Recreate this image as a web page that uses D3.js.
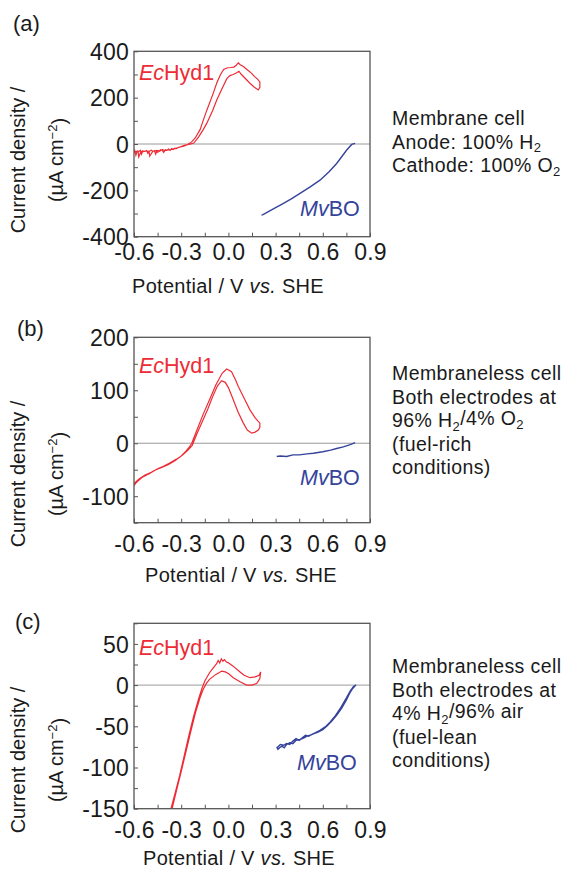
<!DOCTYPE html>
<html lang="en">
<head>
<meta charset="UTF-8">
<title>Hydrogenase fuel cell voltammograms</title>
<script src="https://d3js.org/d3.v7.min.js"></script>
<style>
  body { margin: 0; background: #fff; }
  text { font-family: "Liberation Sans", Arial, sans-serif; fill: #1a1a1a; }
  .tick text { font-size: 23px; fill: #1a1a1a; letter-spacing: 0.2px; }
  .tick line { stroke: #555; }
</style>
</head>
<body>
<div id="chart"></div>
<script>
// ---- data ----
const xTicks = [-0.6, -0.3, 0.0, 0.3, 0.6, 0.9];
const xDomain = [-0.6, 0.9];

const yTicksA = [-400, -200, 0, 200, 400];
const yTicksB = [-100, 0, 100, 200];
const yTicksC = [-150, -100, -50, 0, 50];

const yDomainA = [-400, 400];
const yDomainB = [-150, 200];
const yDomainC = [-150, 75];

// (a) membrane cell, EcHyd1 loop: forward branch then return branch
const hydA = [
  [-0.6,-35],[-0.595,-28],[-0.588,-48],[-0.58,-30],[-0.57,-33],[-0.56,-27],[-0.552,-44],[-0.545,-30],
  [-0.53,-32],[-0.52,-28],[-0.512,-40],[-0.5,-30],[-0.49,-27],[-0.48,-32],[-0.47,-29],[-0.462,-44],
  [-0.455,-28],[-0.44,-30],[-0.43,-25],[-0.42,-28],[-0.412,-36],[-0.4,-25],[-0.39,-27],[-0.38,-22],
  [-0.37,-28],[-0.36,-20],[-0.35,-24],[-0.34,-18],[-0.33,-20],[-0.32,-15],[-0.31,-14],[-0.3,-12],
  [-0.29,-10],[-0.28,-8],[-0.27,-5],[-0.26,-3],[-0.245,-1],[-0.22,4],[-0.19,30],[-0.16,62],
  [-0.137,90],[-0.1,145],[-0.074,190],[-0.04,240],[-0.01,282],[0.01,295],[0.03,300],[0.05,306],
  [0.067,314],[0.08,302],[0.1,288],[0.12,274],[0.137,262],[0.165,245],[0.19,233],[0.2,245],
  [0.2,268],[0.185,280],[0.165,292],[0.148,305],[0.12,320],[0.095,334],[0.075,342],[0.063,350],
  [0.05,340],[0.035,332],[0.015,330],[-0.01,328],[-0.03,322],[-0.05,300],[-0.074,263],[-0.1,212],
  [-0.137,146],[-0.16,102],[-0.18,62],[-0.21,27],[-0.235,8],[-0.26,-2],[-0.28,-6],[-0.3,-11],
  [-0.33,-18],[-0.36,-23],[-0.38,-26],[-0.4,-28],[-0.42,-24],[-0.435,-30],[-0.45,-36],[-0.46,-29],
  [-0.48,-31],[-0.5,-52],[-0.505,-31],[-0.52,-30],[-0.54,-33],[-0.555,-31],[-0.57,-56],[-0.575,-31],
  [-0.59,-33],[-0.6,-38]
];
const mvboA = [
  [0.21,-307],[0.22,-305],[0.26,-290],[0.3,-275],[0.33,-264],[0.4,-237],[0.455,-213],[0.52,-185],
  [0.582,-156],[0.64,-120],[0.688,-84],[0.72,-55],[0.752,-26],[0.784,-2],[0.805,3]
];

// (b) membraneless, fuel-rich
const hydB = [
  [-0.6,-80],[-0.585,-74],[-0.57,-70],[-0.555,-66],[-0.54,-63],[-0.52,-60],[-0.5,-57],[-0.48,-53],
  [-0.46,-50],[-0.42,-45],[-0.38,-40],[-0.34,-33],[-0.3,-24],[-0.27,-15],[-0.25,-8],[-0.233,0],
  [-0.2,25],[-0.16,55],[-0.12,82],[-0.08,110],[-0.04,132],[-0.011,140],[0.02,135],[0.045,120],
  [0.063,107],[0.1,85],[0.137,63],[0.17,48],[0.2,38],
  [0.2,30],[0.19,25],[0.17,21],[0.148,19],[0.12,25],[0.095,38],[0.06,60],[0.031,82],[0.0,105],
  [-0.02,115],[-0.043,118],[-0.07,108],[-0.1,88],[-0.13,65],[-0.16,45],[-0.2,18],[-0.23,-4],
  [-0.26,-14],[-0.29,-22],[-0.33,-30],[-0.37,-37],[-0.41,-43],[-0.45,-48],[-0.49,-55],[-0.53,-60],
  [-0.57,-68],[-0.6,-76]
];
const mvboB = [
  [0.307,-25],[0.33,-24],[0.37,-25],[0.41,-22],[0.45,-22],[0.5,-20],[0.54,-19],[0.6,-16],
  [0.65,-13],[0.688,-10],[0.73,-7],[0.77,-3],[0.805,1]
];

// (c) membraneless, fuel-lean
const hydC = [
  [-0.365,-150],[-0.34,-132],[-0.31,-110],[-0.28,-85],[-0.25,-60],[-0.22,-37],[-0.19,-17],[-0.17,-5],
  [-0.15,5],[-0.12,15],[-0.096,21],[-0.075,26],[-0.065,30],[-0.055,27],[-0.045,32],[-0.035,29],
  [-0.025,31],[-0.012,28],[0.0,27],[0.03,23],[0.074,16],[0.1,12],[0.137,9],[0.17,10],[0.195,12],
  [0.205,16],
  [0.2,8],[0.18,2],[0.15,0],[0.116,0],[0.074,4],[0.031,9],[0.0,14],[-0.02,16],[-0.043,17],
  [-0.06,15],[-0.08,13],[-0.1,10],[-0.12,7],[-0.14,2],[-0.16,-5],[-0.18,-15],[-0.21,-34],
  [-0.24,-57],[-0.27,-81],[-0.3,-105],[-0.33,-128],[-0.358,-150]
];
const mvboC = [
  [0.307,-75],[0.315,-78],[0.325,-76],[0.34,-74],[0.355,-76],[0.37,-72],[0.39,-70],[0.41,-71],
  [0.43,-67],[0.455,-66],[0.48,-64],[0.5,-62],[0.53,-60],[0.56,-57],[0.582,-55],[0.62,-50],
  [0.646,-45],[0.68,-37],[0.709,-29],[0.73,-22],[0.752,-15],[0.775,-7],[0.794,-2],[0.81,0],
  [0.79,-4],[0.77,-10],[0.75,-18],[0.72,-28],[0.69,-36],[0.66,-43],[0.63,-49],[0.6,-54],
  [0.57,-57],[0.54,-59],[0.51,-62],[0.49,-61],[0.47,-64],[0.45,-67],[0.43,-65],[0.41,-68],
  [0.39,-72],[0.37,-71],[0.35,-73],[0.33,-72],[0.31,-76]
];

const notesA = [["Membrane cell"], ["Anode: 100% H", "2"], ["Cathode: 100% O", "2"]];
const notesB = [["Membraneless cell"], ["Both electrodes at"], ["96% H", "2", "/4% O", "2"], ["(fuel-rich"], ["conditions)"]];
const notesC = [["Membraneless cell"], ["Both electrodes at"], ["4% H", "2", "/96% air"], ["(fuel-lean"], ["conditions)"]];

// ---- layout ----
const W = 567, H = 871;
const red = "#ee2b35", blue = "#35439b";
const plotLeft = 134, plotRight = 370, plotH = 185.4;

const panels = [
  { tag: "(a)", tagY: 30.5, tagX: 13, top: 51.3, dom: yDomainA, ticks: yTicksA, step: 100,
    hyd: hydA, mv: mvboA, hydY: 80, mvX: 300, mvY: 216, xLabY: 260, xTitleX: 132, xTitleY: 293,
    yTitleY: 160, notes: notesA, noteY: 125 },
  { tag: "(b)", tagY: 335.5, tagX: 17, top: 337.3, dom: yDomainB, ticks: yTicksB, step: 50,
    hyd: hydB, mv: mvboB, hydY: 373, mvX: 300, mvY: 485, xLabY: 552, xTitleX: 145, xTitleY: 582,
    yTitleY: 474, notes: notesB, noteY: 380 },
  { tag: "(c)", tagY: 629, tagX: 15, top: 623.3, dom: yDomainC, ticks: yTicksC, step: 25,
    hyd: hydC, mv: mvboC, hydY: 655, mvX: 297, mvY: 770, xLabY: 838, xTitleX: 143, xTitleY: 865,
    yTitleY: 760, notes: notesC, noteY: 673 }
];

const svg = d3.select("#chart").append("svg")
  .attr("width", W).attr("height", H);

const x = d3.scaleLinear().domain(xDomain).range([plotLeft, plotRight]);
const xMinor = d3.range(xDomain[0], xDomain[1] + 0.01, 0.15);
const fmtX = d => d.toFixed(1);

panels.forEach((p, i) => {
  const bottom = p.top + plotH;
  const y = d3.scaleLinear().domain(p.dom).range([bottom, p.top]);
  const g = svg.append("g");

  g.append("clipPath").attr("id", "clip" + i)
    .append("rect")
    .attr("x", plotLeft).attr("y", p.top)
    .attr("width", plotRight - plotLeft).attr("height", plotH);

  // zero line
  g.append("line")
    .attr("x1", plotLeft).attr("x2", plotRight)
    .attr("y1", y(0)).attr("y2", y(0))
    .attr("stroke", "#9a9a9a").attr("stroke-width", 1);

  const line = d3.line().x(d => x(d[0])).y(d => y(d[1]));
  g.append("path").datum(p.hyd)
    .attr("d", line).attr("fill", "none")
    .attr("stroke", red).attr("stroke-width", 1.2)
    .attr("clip-path", `url(#clip${i})`);
  g.append("path").datum(p.mv)
    .attr("d", line).attr("fill", "none")
    .attr("stroke", blue).attr("stroke-width", 1.4)
    .attr("clip-path", `url(#clip${i})`);

  // inward tick marks
  g.append("g").attr("transform", `translate(0,${bottom})`)
    .call(d3.axisBottom(x).tickValues(xMinor).tickSize(-4).tickFormat(""))
    .call(a => a.select(".domain").remove());
  const yMinor = d3.range(p.dom[0], p.dom[1] + 0.01, p.step);
  g.append("g").attr("transform", `translate(${plotLeft},0)`)
    .call(d3.axisLeft(y).tickValues(yMinor).tickSize(-4).tickFormat(""))
    .call(a => a.select(".domain").remove());

  // tick labels
  g.append("g").attr("transform", `translate(0,${bottom})`)
    .call(d3.axisBottom(x).tickValues(xTicks).tickSize(0).tickFormat(fmtX))
    .call(a => a.select(".domain").remove())
    .call(a => a.selectAll("text").attr("y", p.xLabY - bottom).attr("dy", 0)
      .style("font-family", "Liberation Sans, Arial, sans-serif"));
  g.append("g").attr("transform", `translate(${plotLeft},0)`)
    .call(d3.axisLeft(y).tickValues(p.ticks).tickSize(0).tickPadding(5).tickFormat(d => String(d)))
    .call(a => a.select(".domain").remove())
    .call(a => a.selectAll("text").attr("dy", "0.36em")
      .style("font-family", "Liberation Sans, Arial, sans-serif"));

  // frame
  g.append("rect")
    .attr("x", plotLeft).attr("y", p.top)
    .attr("width", plotRight - plotLeft).attr("height", plotH)
    .attr("fill", "none").attr("stroke", "#555").attr("stroke-width", 1.3);

  // panel tag
  g.append("text").attr("x", p.tagX).attr("y", p.tagY)
    .style("font-size", "22px").text(p.tag);

  // series labels
  const ec = g.append("text").attr("x", 139).attr("y", p.hydY)
    .style("font-size", "21.5px").style("fill", red);
  ec.append("tspan").style("font-style", "italic").style("fill", red).text("Ec");
  ec.append("tspan").style("fill", red).text("Hyd1");
  const mv = g.append("text").attr("x", p.mvX).attr("y", p.mvY)
    .style("font-size", "21.5px").style("fill", blue);
  mv.append("tspan").style("font-style", "italic").style("fill", blue).text("Mv");
  mv.append("tspan").style("fill", blue).text("BO");

  // axis titles
  const xt = g.append("text").attr("x", p.xTitleX).attr("y", p.xTitleY)
    .style("font-size", "20px").style("letter-spacing", "0.3px");
  xt.append("tspan").text("Potential / V ");
  xt.append("tspan").style("font-style", "italic").text("vs.");
  xt.append("tspan").text(" SHE");

  g.append("text")
    .attr("transform", `translate(25,${p.yTitleY}) rotate(-90)`)
    .attr("text-anchor", "middle").style("font-size", "20px")
    .text("Current density /");
  const yt2 = g.append("text")
    .attr("transform", `translate(63,${p.yTitleY}) rotate(-90)`)
    .attr("text-anchor", "middle").style("font-size", "20px");
  yt2.append("tspan").text("(\u00b5A cm");
  yt2.append("tspan").attr("dy", "-0.45em").style("font-size", "13px").text("\u22122");
  yt2.append("tspan").attr("dy", "0.45em").text(")");

  // condition notes
  const notes = g.append("text").style("font-size", "19.5px").style("letter-spacing", "0.4px");
  p.notes.forEach((parts, k) => {
    const t = notes.append("tspan").attr("x", 392).attr("y", p.noteY + k * 23.5);
    parts.forEach((s, j) => {
      if (j % 2 === 1) {
        t.append("tspan").attr("dy", "0.3em").style("font-size", "13px").text(s);
      } else {
        const s2 = t.append("tspan").text(s);
        if (j > 0) s2.attr("dy", "-0.3em");
      }
    });
  });
});
</script>
</body>
</html>
